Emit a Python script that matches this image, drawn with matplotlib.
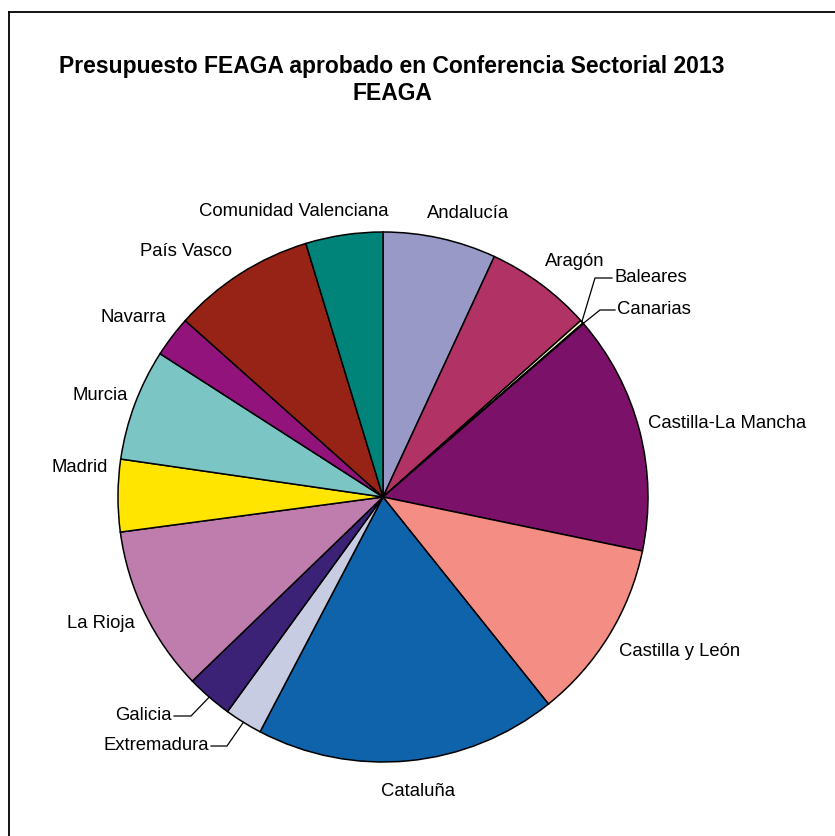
import matplotlib
matplotlib.use("Agg")
import matplotlib.pyplot as plt
import numpy as np
from matplotlib.lines import Line2D

plt.rcParams['font.family'] = ['Liberation Sans', 'DejaVu Sans']

regions = ["Andalucía", "Aragón", "Baleares", "Canarias", "Castilla-La Mancha",
           "Castilla y León", "Cataluña", "Extremadura", "Galicia", "La Rioja",
           "Madrid", "Murcia", "Navarra", "País Vasco", "Comunidad Valenciana"]
shares = [6.9, 6.5, 0.2, 0.05, 14.6, 11.0, 18.4, 2.3, 2.8, 10.1, 4.4, 6.8, 2.5, 8.7, 4.7]
colors = ["#9999C8", "#B13366", "#FFFFCC", "#CCFFFF", "#7B1168", "#F48E85", "#0F63AB",
          "#C8CCE2", "#3C2277", "#BF7DAE", "#FFE500", "#7CC5C5", "#93137C", "#962316", "#008379"]

W, H = 835, 836
fig = plt.figure(figsize=(W / 100, H / 100), dpi=100)

def fx(px):
    return px / W

def fy(py):
    return 1 - py / H

# outer frame (top and left edges visible)
fig.add_artist(Line2D([fx(9), fx(9)], [fy(12), 0], transform=fig.transFigure, color="black", lw=1.3))
fig.add_artist(Line2D([fx(9), 1], [fy(12), fy(12)], transform=fig.transFigure, color="black", lw=1.3))

cx, cy, r = 383, 497, 265
ax = fig.add_axes([fx(cx - r), fy(cy + r), 2 * r / W, 2 * r / H])
wedges, _ = ax.pie(shares, colors=colors, startangle=90, counterclock=False, radius=1,
                   wedgeprops=dict(edgecolor="black", linewidth=1.1))
ax.set_xlim(-1, 1)
ax.set_ylim(-1, 1)
ax.set_aspect('auto')
ax.axis('off')

fs = 13.3
# label positions in pixels (x, center y, ha)
label_pos = {
    "Andalucía": (468, 213, "center"),
    "Aragón": (575, 261, "center"),
    "Baleares": (614, 278, "left"),
    "Canarias": (617, 310, "left"),
    "Castilla-La Mancha": (648, 424, "left"),
    "Castilla y León": (619, 651, "left"),
    "Cataluña": (418, 792, "center"),
    "Extremadura": (209, 746, "right"),
    "Galicia": (172, 716, "right"),
    "La Rioja": (101, 624, "center"),
    "Madrid": (80, 467, "center"),
    "Murcia": (100, 395, "center"),
    "Navarra": (133, 318, "center"),
    "País Vasco": (186, 252, "center"),
    "Comunidad Valenciana": (294, 211, "center"),
}
for name in regions:
    x, y, ha = label_pos[name]
    fig.text(fx(x), fy(y), name, ha=ha, va="center", fontsize=fs)

# leader lines for small slices
leaders = {
    "Baleares": ((595, 278), (612, 278)),
    "Canarias": ((600, 310), (615, 310)),
    "Extremadura": ((227, 746), (211, 746)),
    "Galicia": ((191, 716), (174, 716)),
}
for w, name in zip(wedges, regions):
    if name in leaders:
        ang = np.deg2rad((w.theta1 + w.theta2) / 2)
        sx = cx + r * np.cos(ang)
        sy = cy - r * np.sin(ang)
        (kx, ky), (ex, ey) = leaders[name]
        fig.add_artist(Line2D([fx(sx), fx(kx), fx(ex)], [fy(sy), fy(ky), fy(ey)],
                              transform=fig.transFigure, color="black", lw=0.9))

fig.text(fx(392), fy(67), "Presupuesto FEAGA aprobado en Conferencia Sectorial 2013",
         ha="center", va="center", fontsize=16.5, fontweight="bold")
fig.text(fx(392), fy(93), "FEAGA", ha="center", va="center", fontsize=16.5, fontweight="bold")

fig.savefig("out.png", dpi=100, facecolor="white")
